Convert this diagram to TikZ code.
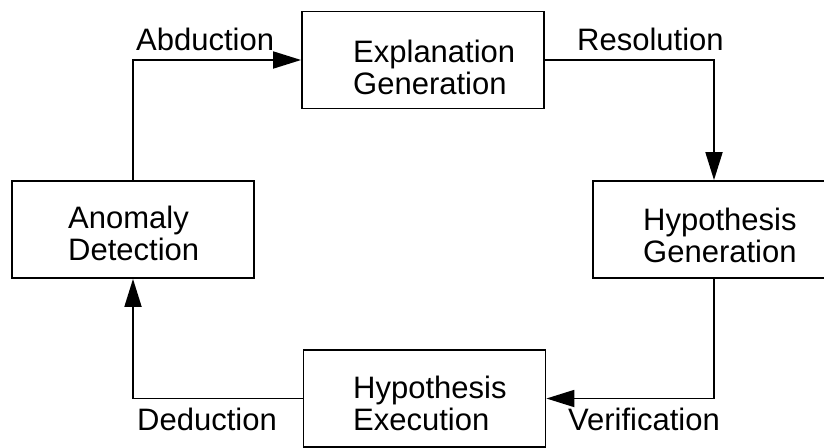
\documentclass[tikz,border=0pt]{standalone}
\usepackage{fontspec}
\setmainfont{Liberation Sans}
\usetikzlibrary{arrows.meta}
\begin{document}
\begin{tikzpicture}[x=1pt, y=-1pt,
  stage/.style={draw, line width=1.8pt, inner sep=0pt, minimum width=242pt, minimum height=97pt},
  stagetext/.style={font=\fontsize{31}{32}\selectfont, inner sep=0pt, align=left, anchor=north west},
  edgelabel/.style={font=\fontsize{31}{32}\selectfont, inner sep=0pt, anchor=base west},
  flow/.style={line width=1.8pt, -{Triangle[length=28pt, width=17pt]}}]
  \useasboundingbox (0,0) rectangle (824,447);
  \clip (0,0) rectangle (824,447);

  % the four stages of the cycle
  \node[stage] (expl) at (423,60) {};
  \node[stage] (anom) at (133,229.5) {};
  \node[stage] (hgen) at (714,229.5) {};
  \node[stage] (hexe) at (424.5,398.5) {};

  \node[stagetext] (expltext) at (353,40) {Explanation\\Generation};
  \node[stagetext] (anomtext) at (68,206) {Anomaly\\Detection};
  \node[stagetext] (hgentext) at (643,208) {Hypothesis\\Generation};
  \node[stagetext] (hexetext) at (353,376) {Hypothesis\\Execution};

  % connectors between stages
  \draw[flow] (anom.north) |- (expl.west);
  \draw[flow] (expl.east) -| (hgen.north);
  \draw[flow] (hgen.south) |- (hexe.east);
  \draw[flow] (hexe.west) -| (anom.south);

  % connector labels
  \node[edgelabel] (abd) at (136,50) {Abduction};
  \node[edgelabel] (res) at (577,50) {Resolution};
  \node[edgelabel] (ver) at (568,430) {Verification};
  \node[edgelabel] (ded) at (137,430) {Deduction};
\end{tikzpicture}
\end{document}
